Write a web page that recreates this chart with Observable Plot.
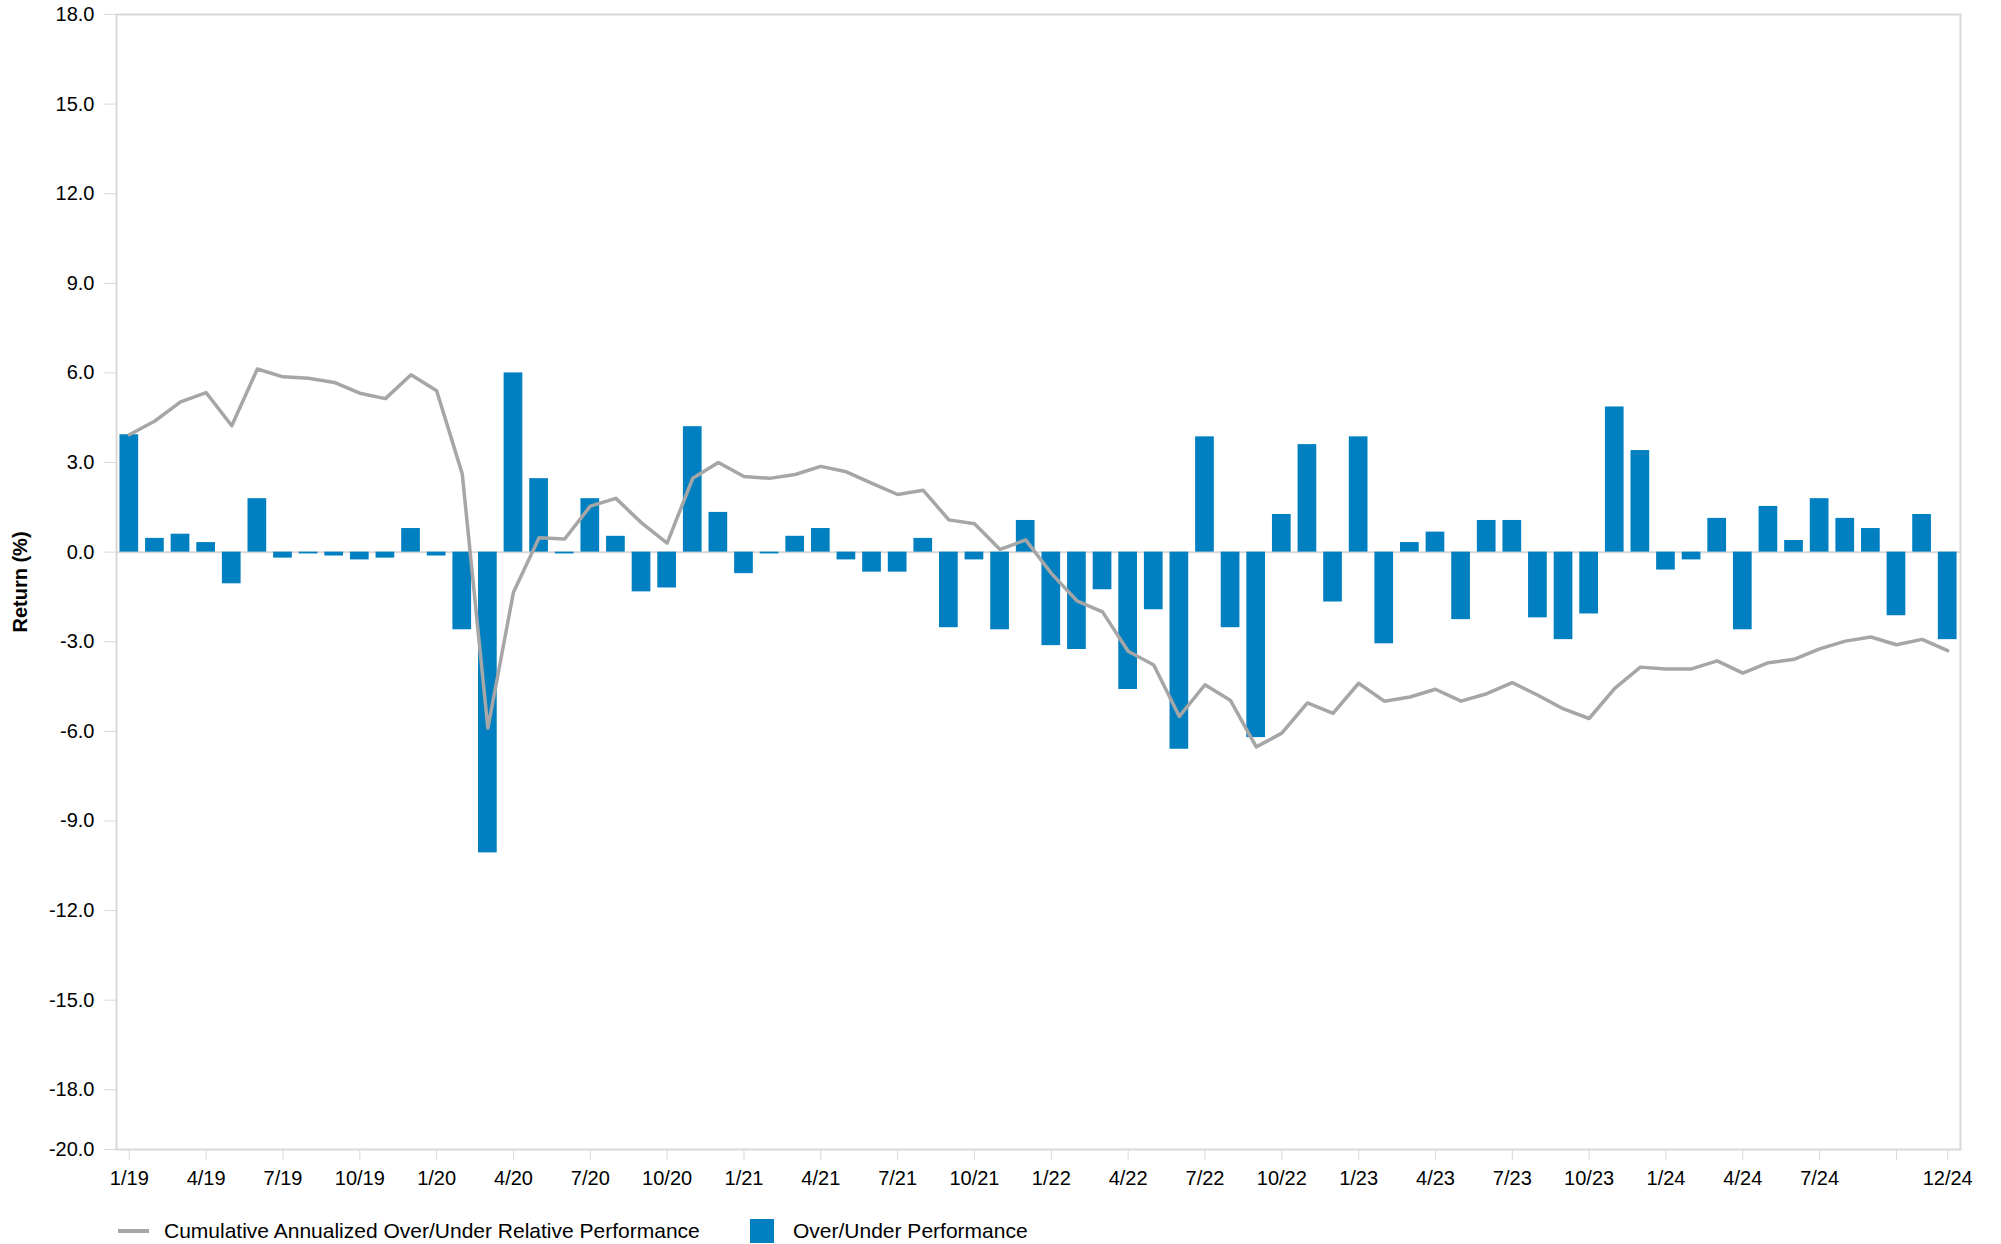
<!DOCTYPE html>
<html>
<head>
<meta charset="utf-8">
<script src="https://cdn.jsdelivr.net/npm/d3@7"></script>
<script src="https://cdn.jsdelivr.net/npm/@observablehq/plot@0.6"></script>
<style>
  html, body { margin: 0; padding: 0; background: #fff; }
  body { width: 2001px; height: 1244px; position: relative; overflow: hidden; font-family: "Liberation Sans", Arial, sans-serif; }
  #legend { position: absolute; left: 0; top: 1219px; width: 2001px; height: 25px; font-size: 21px; color: #000; }
  #legend .item { position: absolute; top: 0; height: 24px; line-height: 24px; white-space: nowrap; }
  #legend .swatch-line { position: absolute; top: 10px; height: 4px; width: 31px; background: #a6a6a6; }
  #legend .swatch-box { position: absolute; top: 0; height: 24px; width: 24px; background: #007fc1; }
</style>
</head>
<body>
<div id="chart"></div>
<div id="legend">
  <div class="swatch-line" style="left:118px"></div>
  <div class="item" style="left:164px">Cumulative Annualized Over/Under Relative Performance</div>
  <div class="swatch-box" style="left:750px"></div>
  <div class="item" style="left:793px">Over/Under Performance</div>
</div>
<script>
const months = [
  "1/19","2/19","3/19","4/19","5/19","6/19","7/19","8/19","9/19","10/19","11/19","12/19",
  "1/20","2/20","3/20","4/20","5/20","6/20","7/20","8/20","9/20","10/20","11/20","12/20",
  "1/21","2/21","3/21","4/21","5/21","6/21","7/21","8/21","9/21","10/21","11/21","12/21",
  "1/22","2/22","3/22","4/22","5/22","6/22","7/22","8/22","9/22","10/22","11/22","12/22",
  "1/23","2/23","3/23","4/23","5/23","6/23","7/23","8/23","9/23","10/23","11/23","12/23",
  "1/24","2/24","3/24","4/24","5/24","6/24","7/24","8/24","9/24","10/24","11/24","12/24"
];

const overUnder = [
  3.93, 0.46, 0.60, 0.32, -1.06, 1.79, -0.20, -0.06, -0.13, -0.26, -0.20, 0.79,
  -0.13, -2.60, -10.07, 6.00, 2.46, -0.06, 1.79, 0.53, -1.33, -1.20, 4.20, 1.33,
  -0.72, -0.06, 0.53, 0.79, -0.26, -0.67, -0.67, 0.46, -2.53, -0.26, -2.60, 1.06,
  -3.13, -3.26, -1.26, -4.60, -1.93, -6.60, 3.86, -2.53, -6.21, 1.26, 3.60, -1.67,
  3.86, -3.07, 0.32, 0.67, -2.26, 1.06, 1.06, -2.20, -2.93, -2.07, 4.86, 3.40,
  -0.60, -0.26, 1.13, -2.60, 1.53, 0.39, 1.79, 1.13, 0.79, -2.13, 1.26, -2.93
];

const cumulative = [
  3.93, 4.39, 5.03, 5.34, 4.23, 6.13, 5.87, 5.82, 5.68, 5.32, 5.14, 5.94,
  5.40, 2.62, -5.89, -1.34, 0.48, 0.44, 1.54, 1.80, 0.98, 0.30, 2.47, 3.00,
  2.53, 2.47, 2.60, 2.87, 2.69, 2.30, 1.93, 2.07, 1.08, 0.95, 0.09, 0.41,
  -0.71, -1.63, -2.00, -3.32, -3.78, -5.50, -4.44, -4.97, -6.52, -6.06, -5.05, -5.40,
  -4.39, -4.99, -4.85, -4.59, -4.99, -4.74, -4.37, -4.79, -5.25, -5.57, -4.56, -3.85,
  -3.91, -3.91, -3.64, -4.05, -3.70, -3.59, -3.24, -2.98, -2.84, -3.10, -2.92, -3.30
];

const xTickMonths = ["1/19","4/19","7/19","10/19","1/20","4/20","7/20","10/20","1/21","4/21","7/21","10/21",
  "1/22","4/22","7/22","10/22","1/23","4/23","7/23","10/23","1/24","4/24","7/24","10/24","12/24"];
const xUnlabeled = ["10/24"];
const yTicks = [18, 15, 12, 9, 6, 3, 0, -3, -6, -9, -12, -15, -18, -20];

const data = months.map((m, i) => ({month: m, bar: overUnder[i], cum: cumulative[i]}));

const chart = Plot.plot({
  width: 2001,
  height: 1200,
  marginTop: 14,
  marginLeft: 116,
  marginRight: 41,
  marginBottom: 51,
  style: {fontFamily: "'Liberation Sans', Arial, sans-serif", fontSize: "20px", color: "#000", background: "#fff", overflow: "visible"},
  x: {domain: months, paddingInner: 0.27, paddingOuter: 0.135, axis: null},
  y: {domain: [-20, 18], axis: null},
  marks: [
    Plot.ruleY([0], {stroke: "#d9d9d9", strokeWidth: 2}),
    Plot.barY(data, {x: "month", y: "bar", fill: "#007fc1"}),
    Plot.line(data, {x: "month", y: "cum", stroke: "#a6a6a6", strokeWidth: 3.5}),
    Plot.frame({stroke: "#d9d9d9", strokeWidth: 2}),
    Plot.axisY({ticks: yTicks, tickFormat: d => d.toFixed(1), tickSize: 12, tickPadding: 10, stroke: "#d9d9d9", fill: "#000", label: null, fontSize: 20}),
    Plot.axisX({ticks: xTickMonths, tickFormat: d => xUnlabeled.includes(d) ? "" : d, tickSize: 11, tickPadding: 10, stroke: "#d9d9d9", fill: "#000", label: null, fontSize: 20}),
    Plot.text(["Return (%)"], {frameAnchor: "left", textAnchor: "middle", rotate: -90, dx: -96, fontWeight: "bold", fontSize: 20, fill: "#000"})
  ]
});

document.getElementById("chart").appendChild(chart);
</script>
</body>
</html>
